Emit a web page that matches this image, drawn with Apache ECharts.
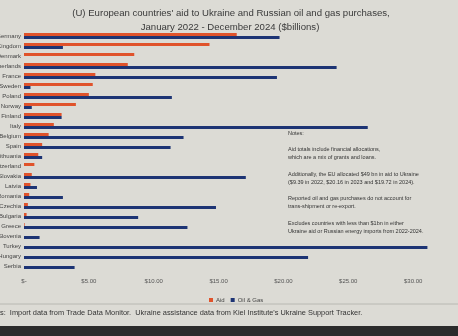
<!DOCTYPE html>
<html><head><meta charset="utf-8">
<script src="https://cdn.jsdelivr.net/npm/echarts@6/dist/echarts.min.js"></script>
<style>html,body{margin:0;padding:0;background:#dcdbd5;}#c{width:458px;height:336px;}</style>
</head><body><div id="c"></div>
<script>
const categories = ["Germany","United Kingdom","Denmark","Netherlands","France","Sweden","Poland","Norway","Finland","Italy","Belgium","Spain","Lithuania","Switzerland","Slovakia","Latvia","Romania","Czechia","Bulgaria","Greece","Slovenia","Turkey","Hungary","Serbia"];
const aid =    [16.4,14.3,8.5,8.0,5.5,5.3,5.0,4.0,2.9,2.3,1.9,1.4,1.1,0.8,0.6,0.5,0.4,0.3,0.2,0.05,0,0,0,0];
const oilGas = [19.7,3.0,0,24.1,19.5,0.5,11.4,0.6,2.9,26.5,12.3,11.3,1.4,0,17.1,1.0,3.0,14.8,8.8,12.6,1.2,31.1,21.9,3.9];
const xTicks = [0,5,10,15,20,25,30,35];
const titleLines = ["(U) European countries' aid to Ukraine and Russian oil and gas purchases,","January 2022 - December 2024 ($billions)"];
const notes = ["Notes:","","Aid totals include financial allocations,","which are a mix of grants and loans.","","Additionally, the EU allocated $49 bn in aid to Ukraine","($9.39 in 2022, $20.16 in 2023 and $19.72 in 2024).","","Reported oil and gas purchases do not account for","trans-shipment or re-export.","","Excludes countries with less than $1bn in either","Ukraine aid or Russian energy imports from 2022-2024."];
const sourceText = "s:  Import data from Trade Data Monitor.  Ukraine assistance data from Kiel Institute's Ukraine Support Tracker.";

const FF = 'Liberation Sans, Arial, sans-serif';
const chart = echarts.init(document.getElementById('c'));
chart.setOption({
  backgroundColor: '#dcdbd5',
  animation: false,
  textStyle: {fontFamily: FF},
  legend: {
    data: ['Aid','Oil & Gas'], top: 292, left: 204,
    itemWidth: 4, itemHeight: 4, itemGap: 6, icon: 'rect',
    textStyle: {fontSize: 6, color: '#444', padding: [0,0,0,-2]}
  },
  grid: {left: 24, right: -20, top: 31, bottom: 65, outerBoundsMode: 'none', containLabel: false},
  xAxis: {
    type: 'value', min: 0, max: 35, interval: 5,
    axisLine: {show: false}, axisTick: {show: false}, splitLine: {show: false},
    axisLabel: {fontSize: 6, color: '#555', margin: 7,
      formatter: v => v === 0 ? '$-' : '$' + v.toFixed(2)}
  },
  yAxis: {
    type: 'category', data: categories, inverse: true,
    axisLine: {show: false}, axisTick: {show: false},
    axisLabel: {fontSize: 6, color: '#444', margin: 3, interval: 0}
  },
  series: [
    {name: 'Aid', type: 'bar', data: aid, barWidth: 3, barGap: '0%', itemStyle: {color: '#e0532b'}},
    {name: 'Oil & Gas', type: 'bar', data: oilGas, barWidth: 3, barGap: '0%', itemStyle: {color: '#1d3474'}}
  ],
  graphic: [
    {type: 'text', x: 231, y: 13, style: {text: titleLines[0], fontSize: 9.6, fill: '#3a3a3a', align: 'center', verticalAlign: 'middle', fontFamily: FF}},
    {type: 'text', x: 230, y: 27, style: {text: titleLines[1], fontSize: 9.6, fill: '#3a3a3a', align: 'center', verticalAlign: 'middle', fontFamily: FF}},
    {type: 'text', left: 288, top: 129, style: {text: notes.join('\n'), fontSize: 5.5, lineHeight: 8.2, fill: '#333', fontFamily: FF}},
    {type: 'line', shape: {x1: 0, y1: 304, x2: 458, y2: 304}, style: {stroke: '#b8b8b2', lineWidth: 1}},
    {type: 'text', left: 0, top: 309, style: {text: sourceText, fontSize: 7.4, fill: '#333', fontFamily: FF}},
    {type: 'rect', shape: {x: 0, y: 326, width: 458, height: 10}, style: {fill: '#2b2b2b'}}
  ]
});
</script></body></html>
